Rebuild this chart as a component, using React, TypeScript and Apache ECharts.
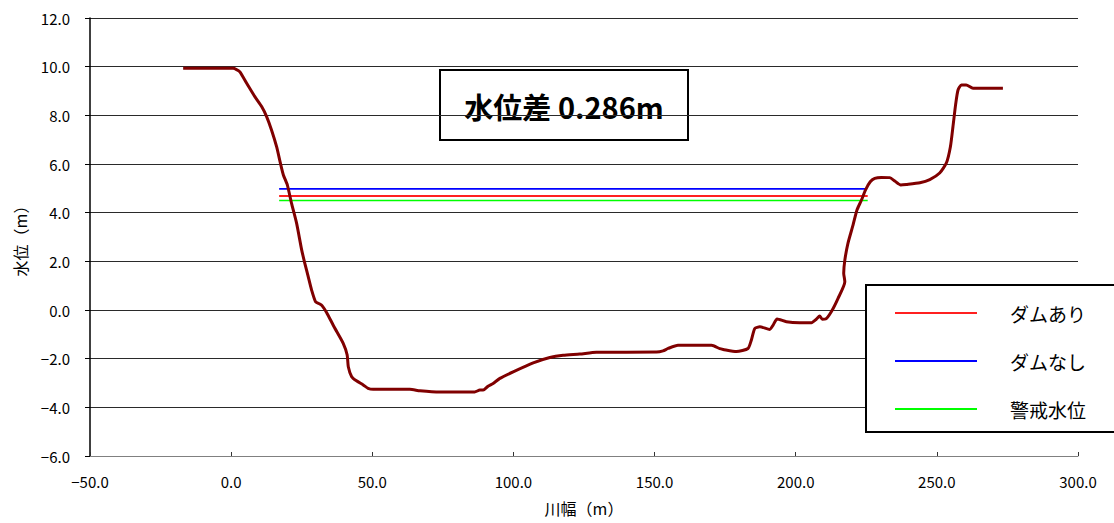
import React, { useEffect, useRef } from "react";
import * as echarts from "echarts";

const terrainX = [-17.0, 0.7, 1.9, 3.1, 5.5, 8.4, 10.8, 12.6, 14.3, 16.1, 17.6, 18.5, 19.9, 21.4, 23.2, 25.0, 26.1, 27.3, 28.5, 29.9, 31.4, 32.2, 33.8, 36.5, 39.7, 41.1, 41.5, 42.7, 44.4, 46.8, 48.5, 50.3, 63.3, 66.9, 73.9, 86.3, 88.1, 89.3, 91.0, 92.8, 95.2, 99.9, 107.0, 112.9, 117.6, 123.5, 129.4, 150.7, 153.0, 154.8, 158.3, 170.2, 173.1, 174.3, 179.0, 183.1, 184.3, 185.5, 187.3, 190.8, 192.0, 193.4, 196.7, 201.4, 205.6, 207.3, 208.5, 209.4, 210.6, 212.6, 215.0, 217.4, 217.0, 217.4, 218.5, 220.3, 221.7, 223.3, 224.7, 226.4, 228.0, 230.3, 233.3, 235.1, 237.2, 239.2, 244.0, 247.5, 251.0, 253.4, 254.8, 255.7, 256.7, 257.5, 258.7, 260.4, 262.8, 273.4];
const terrainY = [9.93, 9.93, 9.88, 9.79, 9.32, 8.77, 8.36, 7.94, 7.40, 6.71, 5.96, 5.55, 5.14, 4.38, 3.56, 2.46, 1.92, 1.37, 0.82, 0.34, 0.25, 0.18, -0.1, -0.7, -1.37, -1.85, -2.33, -2.74, -2.91, -3.08, -3.22, -3.26, -3.26, -3.32, -3.37, -3.37, -3.29, -3.29, -3.13, -3.02, -2.81, -2.54, -2.17, -1.95, -1.86, -1.81, -1.74, -1.73, -1.68, -1.58, -1.45, -1.45, -1.59, -1.62, -1.71, -1.58, -1.23, -0.76, -0.69, -0.80, -0.62, -0.37, -0.48, -0.52, -0.52, -0.38, -0.25, -0.38, -0.37, -0.07, 0.48, 1.16, 1.51, 2.05, 2.74, 3.49, 4.11, 4.52, 4.93, 5.27, 5.41, 5.45, 5.44, 5.30, 5.14, 5.16, 5.23, 5.36, 5.63, 6.05, 6.71, 7.53, 8.49, 9.04, 9.25, 9.25, 9.11, 9.11];

const levelNames = ["ダムあり", "ダムなし", "警戒水位"];
const levelValues = [4.69, 4.976, 4.5];
const levelStartX = [17, 17, 17];
const levelEndX = [225.5, 224.7, 225.5];
const levelColors = ["#ff2020", "#0000ff", "#00ff00"];

const titleText = "水位差 0.286m";

const FONT = "'Noto Sans CJK JP', 'Noto Sans', sans-serif";

const fmt = (v: number) => v.toFixed(1).replace("-", "\u2212");

export default function App() {
  const ref = useRef<HTMLDivElement>(null);
  useEffect(() => {
    if (!ref.current) return;
    const chart = echarts.init(ref.current, null, { renderer: "svg" });
    const levelSeries = levelNames.map((name, i) => ({
      name,
      type: "line",
      data: [
        [levelStartX[i], levelValues[i]],
        [levelEndX[i], levelValues[i]],
      ],
      color: levelColors[i],
      lineStyle: { color: levelColors[i], width: i === 0 ? 2 : 1.6 },
      showSymbol: false,
      symbol: "none",
      z: 2,
    }));
    chart.setOption({
      animation: false,
      textStyle: { fontFamily: FONT },
      grid: { left: 90, right: 36, top: 18, bottom: 67, containLabel: false },
      xAxis: {
        type: "value",
        min: -50,
        max: 300,
        interval: 50,
        name: "川幅（m）",
        nameLocation: "middle",
        nameGap: 44,
        nameTextStyle: { fontSize: 16, color: "#000", fontFamily: FONT },
        axisLine: { show: true, onZero: false, lineStyle: { color: "#808080", width: 1 } },
        axisTick: { show: true, inside: true, length: 4, lineStyle: { color: "#333" } },
        axisLabel: { formatter: fmt, fontSize: 15, color: "#000", margin: 18, fontFamily: FONT },
        splitLine: { show: false },
      },
      yAxis: {
        type: "value",
        min: -6,
        max: 12,
        interval: 2,
        name: "水位（m）",
        nameLocation: "middle",
        nameRotate: 90,
        nameGap: 62,
        nameTextStyle: { fontSize: 16, color: "#000", fontFamily: FONT },
        axisLine: { show: true, onZero: false, lineStyle: { color: "#000", width: 1.5 } },
        axisTick: { show: true, inside: false, length: 5, lineStyle: { color: "#000" } },
        axisLabel: { formatter: fmt, fontSize: 15, color: "#000", margin: 20, fontFamily: FONT },
        splitLine: { show: true, lineStyle: { color: "#2a2a2a", width: 1 } },
      },
      legend: {
        data: levelNames,
        orient: "vertical",
        left: 866,
        top: 285,
        icon: "rect",
        itemWidth: 82,
        itemHeight: 2,
        itemGap: 28,
        padding: [18, 40, 13, 29],
        backgroundColor: "#fff",
        borderColor: "#000",
        borderWidth: 2,
        borderRadius: 0,
        textStyle: {
          fontSize: 19,
          lineHeight: 20,
          color: "#000",
          fontFamily: FONT,
          padding: [0, 0, 0, 28],
        },
      },
      graphic: [
        {
          type: "group",
          z: 100,
          children: [
            {
              type: "rect",
              shape: { x: 440, y: 70, width: 248, height: 70 },
              style: { fill: "#fff", stroke: "#000", lineWidth: 2 },
            },
            {
              type: "text",
              x: 564,
              y: 106,
              style: {
                text: titleText,
                fill: "#000",
                font: `bold 29px ${FONT}`,
                align: "center",
                verticalAlign: "middle",
              },
            },
          ],
        },
      ],
      series: [
        ...levelSeries,
        {
          name: "地盤",
          type: "line",
          data: terrainX.map((x, i) => [x, terrainY[i]]),
          color: "#800000",
          lineStyle: { color: "#800000", width: 3 },
          showSymbol: false,
          symbol: "none",
          smooth: 0.2,
          z: 3,
        },
      ],
    });
    return () => chart.dispose();
  }, []);
  return (
    <div
      ref={ref}
      style={{ position: "absolute", left: 0, top: 0, width: 1114, height: 523, background: "#fff" }}
    />
  );
}
